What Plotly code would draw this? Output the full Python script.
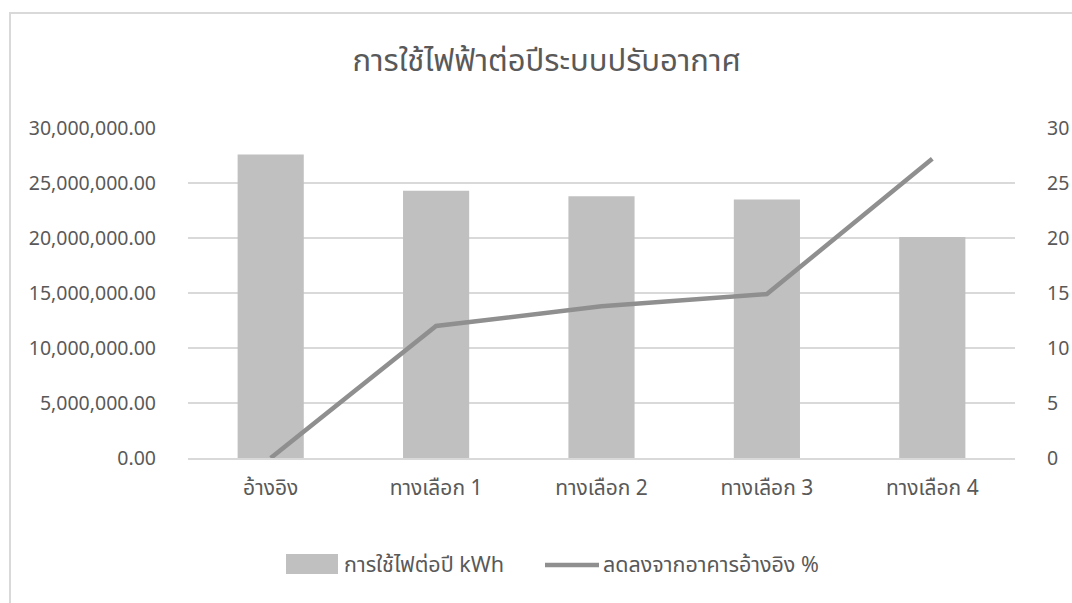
import plotly.graph_objects as go

# Annual air-conditioning electricity use per design option
categories = ["อ้างอิง", "ทางเลือก 1", "ทางเลือก 2", "ทางเลือก 3", "ทางเลือก 4"]
energy_kwh = [27600000, 24300000, 23800000, 23500000, 20100000]
reduction_pct = [0, 12.0, 13.8, 14.9, 27.2]

title_text = "การใช้ไฟฟ้าต่อปีระบบปรับอากาศ"
bar_name = "การใช้ไฟต่อปี kWh"
line_name = "ลดลงจากอาคารอ้างอิง %"

text_color = "#595959"
grid_color = "#d9d9d9"
bar_color = "#c0c0c0"
line_color = "#8f8f8f"
font_family = "Noto Sans Thai, Tahoma, Noto Sans, DejaVu Sans, sans-serif"

# plot area in pixels, used to place the hand-drawn legend
L, R, T, B = 188, 57, 128, 145
W, H = 1072, 603
pw, ph = W - L - R, H - T - B


def px_x(x):
    return (x - L) / pw


def px_y(y):
    return (H - B - y) / ph


fig = go.Figure()
fig.add_trace(go.Bar(
    x=categories, y=energy_kwh, name=bar_name,
    marker=dict(color=bar_color, line=dict(width=0)),
    yaxis="y", showlegend=False,
))
fig.add_trace(go.Scatter(
    x=categories, y=reduction_pct, name=line_name,
    mode="lines", line=dict(color=line_color, width=4.5),
    yaxis="y2", showlegend=False,
))

legend_y = 565
fig.update_layout(
    width=W, height=H,
    margin=dict(l=L, r=R, t=T, b=B, autoexpand=False),
    paper_bgcolor="white", plot_bgcolor="white",
    font=dict(family=font_family, size=19.5, color=text_color),
    title=dict(text=title_text, x=0.51, xanchor="center",
               y=0.9, yanchor="middle",
               font=dict(size=31, color=text_color)),
    bargap=0.6,
    xaxis=dict(showgrid=False, showline=True, linecolor=grid_color,
               linewidth=1.5, ticks="", ticklabelstandoff=10,
               tickfont=dict(size=21), automargin=False),
    yaxis=dict(range=[0, 30000000], dtick=5000000, tickformat=",.2f",
               showgrid=True, gridcolor=grid_color, gridwidth=1.5,
               zeroline=False, ticks="", ticklabelstandoff=31,
               automargin=False),
    yaxis2=dict(range=[0, 30], dtick=5, overlaying="y", side="right",
                showgrid=False, zeroline=False, ticks="",
                ticklabelstandoff=31, automargin=False),
    shapes=[
        # chart frame
        dict(type="rect", xref="paper", yref="paper",
             x0=px_x(10), x1=px_x(1100), y0=px_y(640), y1=px_y(13),
             line=dict(color=grid_color, width=2), layer="below"),
        # legend swatches
        dict(type="rect", xref="paper", yref="paper",
             x0=px_x(286), x1=px_x(338), y0=px_y(574), y1=px_y(554),
             fillcolor=bar_color, line=dict(width=0)),
        dict(type="line", xref="paper", yref="paper",
             x0=px_x(545), x1=px_x(599), y0=px_y(legend_y), y1=px_y(legend_y),
             line=dict(color=line_color, width=4.5)),
    ],
    annotations=[
        dict(text=bar_name, xref="paper", yref="paper",
             x=px_x(342), y=px_y(legend_y), xanchor="left", yanchor="middle",
             showarrow=False, font=dict(size=21.5, color=text_color)),
        dict(text=line_name, xref="paper", yref="paper",
             x=px_x(601), y=px_y(legend_y), xanchor="left", yanchor="middle",
             showarrow=False, font=dict(size=21.5, color=text_color)),
    ],
)

fig.write_html("out.html")
